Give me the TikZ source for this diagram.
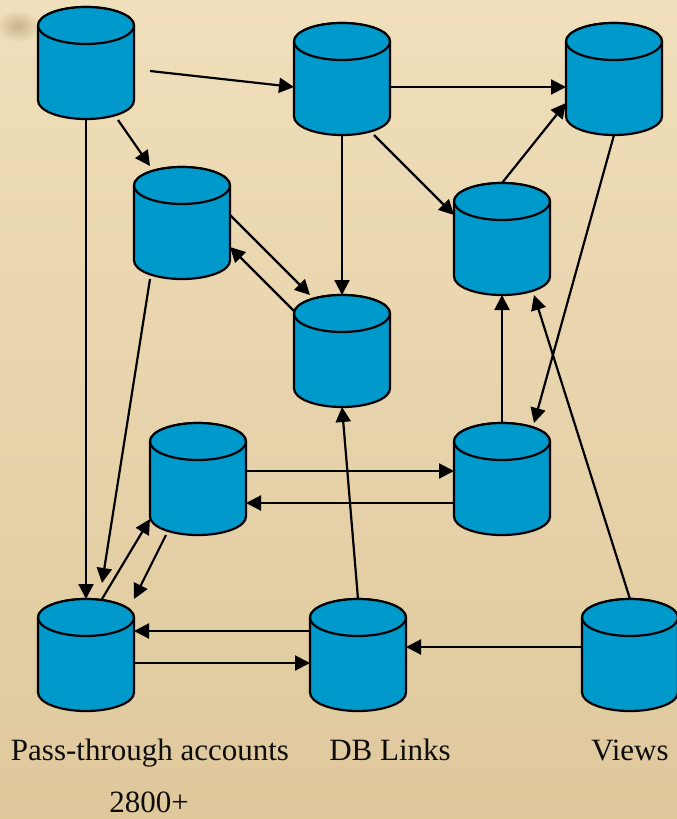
\documentclass[tikz,border=0pt]{standalone}
\usepackage{fontspec}
\setmainfont{Liberation Serif}
\usepackage{tikz}
\usetikzlibrary{calc,arrows.meta}
\definecolor{dbblue}{HTML}{0099CC}
\definecolor{papertop}{HTML}{F0DFBB}
\definecolor{paperbot}{HTML}{DFC89C}
\definecolor{smudge}{HTML}{A08A60}
\tikzset{
  dbbox/.style={minimum width=96pt,minimum height=112pt,inner sep=0pt,outer sep=0pt},
  dbline/.style={draw=black,fill=dbblue,line width=2.2pt},
  lbl/.style={font=\fontsize{31}{34}\selectfont,text=black!95,inner sep=0pt,anchor=base},
}
\newcommand{\drawDB}[3]{% name, center: x,y
  \node[dbbox] (#1) at (#2, #3) {};
  \draw[dbline] ($(#1.north west)+(0,18.5)$) -- ++(0,75) arc[start angle=180,end angle=0,x radius=48,y radius=18.5] -- ++(0,-75)
    arc[start angle=0,end angle=-180,x radius=48,y radius=18.5] -- cycle;
  \draw[dbline] ($(#1.north west)+(0,18.5)$) arc[start angle=180,end angle=540,x radius=48,y radius=18.5];
}
\begin{document}
\begin{tikzpicture}[x=1pt,y=-1pt,>={Triangle[length=15pt,width=15pt]},line width=2.2pt]
% Background
\useasboundingbox (0,0) rectangle (677,819);
\shade[top color=papertop,bottom color=paperbot] (0,0) rectangle (677,819);
\shade[inner color=smudge,outer color=papertop,opacity=0.5] (18,26) ellipse (22 and 16);

% Databases
\drawDB{top}{86}{63}
\drawDB{mid}{342}{79}
\drawDB{right}{614}{79}
\drawDB{second}{182}{223}
\drawDB{centre}{502}{239}
\drawDB{hub}{342}{351}
\drawDB{lowleft}{198}{479}
\drawDB{lowright}{502}{479}
\drawDB{pass}{86}{655}
\drawDB{links}{358}{655}
\drawDB{views}{630}{655}

% Top row
\draw[->] ($(top.east)+(16,8)$) to ($(mid.west)+(0,8)$);
\draw[->] ($(top.south)+(32,1)$) to ($(second.north)+(-32,-1)$);
\draw[->] (top.south) to (pass.north);
\draw[->] ($(mid.east)+(0,8)$) to ($(right.west)+(0,8)$);
\draw[->] (mid.south) to (hub.north);
\draw[->] ($(mid.south)+(32,0)$) to ($(centre.west)+(0,-24)$);
\draw[->] (centre.north) to ($(right.west)+(0,24)$);
\draw[->] (right.south) to ($(lowright.north)+(32,0)$);

% Middle
\draw[->] ($(second.east)+(0,-8)$) to ($(hub.north)+(-32,0)$);
\draw[->] ($(hub.west)+(0,-40)$) to ($(second.east)+(0,24)$);
\draw[->] ($(second.south)+(-32,0)$) to ($(pass.north)+(16,-16)$);
\draw[->] (lowright.north) to (centre.south);
\draw[->] ($(lowleft.east)+(0,-8)$) to ($(lowright.west)+(0,-8)$);
\draw[->] ($(lowright.west)+(0,24)$) to ($(lowleft.east)+(0,24)$);

% Bottom row
\draw[->] ($(pass.north)+(16,0)$) to ($(lowleft.west)+(0,40)$);
\draw[->] ($(lowleft.south)+(-32,0)$) to ($(pass.north)+(48,0)$);
\draw[->] ($(links.west)+(0,-24)$) to ($(pass.east)+(0,-24)$);
\draw[->] ($(pass.east)+(0,8)$) to ($(links.west)+(0,8)$);
\draw[->] ($(views.west)+(0,-8)$) to ($(links.east)+(0,-8)$);
\draw[->] (links.north) to (hub.south);
\draw[->] (views.north) to ($(centre.south)+(32,0)$);

% Labels
\node[lbl] (passlbl) at (150,760) {Pass-through accounts};
\node[lbl] (linkslbl) at (390,760) {DB Links};
\node[lbl] (viewslbl) at (630,760) {Views};
\node[lbl] (countlbl) at (149,812) {2800+};
\end{tikzpicture}
\end{document}
